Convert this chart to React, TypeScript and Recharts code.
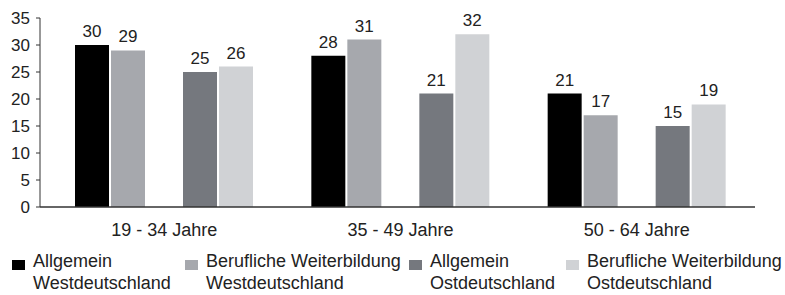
import { BarChart, Bar, XAxis, YAxis, Legend, LabelList } from 'recharts';

const categories = ['19 - 34 Jahre', '35 - 49 Jahre', '50 - 64 Jahre'];
const allgemeinWest = [30, 28, 21];
const beruflichWest = [29, 31, 17];
const allgemeinOst = [25, 21, 15];
const beruflichOst = [26, 32, 19];
const yTicks = [0, 5, 10, 15, 20, 25, 30, 35];

const series = [
  { key: 'allgWest', line1: 'Allgemein', line2: 'Westdeutschland', color: '#000000' },
  { key: 'beruWest', line1: 'Berufliche Weiterbildung', line2: 'Westdeutschland', color: '#a6a8ad' },
  { key: 'allgOst', line1: 'Allgemein', line2: 'Ostdeutschland', color: '#75787e' },
  { key: 'beruOst', line1: 'Berufliche Weiterbildung', line2: 'Ostdeutschland', color: '#d0d2d5' },
];

const data = categories.map((name, i) => ({
  name,
  allgWest: allgemeinWest[i],
  beruWest: beruflichWest[i],
  allgOst: allgemeinOst[i],
  beruOst: beruflichOst[i],
}));

const FONT = '"Liberation Sans", Arial, Helvetica, sans-serif';
const TEXT = '#222222';
const AXIS = '#333333';
const legendLeft = [12, 185, 409, 566];

const LegendBlock = () => (
  <div style={{ position: 'relative', width: 785, height: 46, fontFamily: FONT, fontSize: 18, color: TEXT }}>
    {series.map((s, i) => (
      <div key={s.key} style={{ position: 'absolute', left: legendLeft[i], top: 0, display: 'flex' }}>
        <span
          style={{
            display: 'inline-block',
            width: 13,
            height: 10,
            marginTop: 10,
            marginRight: 8,
            background: s.color,
          }}
        />
        <div style={{ lineHeight: '22px', whiteSpace: 'nowrap' }}>
          <div>{s.line1}</div>
          <div>{s.line2}</div>
        </div>
      </div>
    ))}
  </div>
);

const renderBar = (key: string, color: string) => (
  <Bar key={key} dataKey={key} fill={color} isAnimationActive={false}>
    <LabelList
      dataKey={key}
      position="top"
      offset={8}
      fill={TEXT}
      fontSize={17}
      fontFamily={FONT}
    />
  </Bar>
);

export default function App() {
  return (
    <div style={{ position: 'absolute', left: 0, top: 0, background: '#fff' }}>
      <BarChart
        width={785}
        height={295}
        data={data}
        margin={{ top: 18, right: 30, left: 0, bottom: 0 }}
        barGap={2}
        barCategoryGap={29}
      >
        <XAxis
          dataKey="name"
          height={88}
          padding={{ left: 6, right: 0 }}
          tickLine={false}
          tickMargin={10}
          axisLine={{ stroke: AXIS, strokeWidth: 1.5 }}
          tick={{ fill: TEXT, fontSize: 18, fontFamily: FONT }}
        />
        <YAxis
          width={40}
          domain={[0, 35]}
          ticks={yTicks}
          interval={0}
          tickSize={4}
          tickMargin={6}
          axisLine={{ stroke: AXIS }}
          tickLine={{ stroke: AXIS }}
          tick={{ fill: TEXT, fontSize: 17, fontFamily: FONT }}
        />
        <Legend
          layout="horizontal"
          verticalAlign="middle"
          align="center"
          wrapperStyle={{ position: 'absolute', left: 0, top: 250, width: 785 }}
          content={() => <LegendBlock />}
        />
        {renderBar('allgWest', series[0].color)}
        {renderBar('beruWest', series[1].color)}
        <Bar dataKey="spacer" fill="none" legendType="none" isAnimationActive={false} />
        {renderBar('allgOst', series[2].color)}
        {renderBar('beruOst', series[3].color)}
      </BarChart>
    </div>
  );
}
